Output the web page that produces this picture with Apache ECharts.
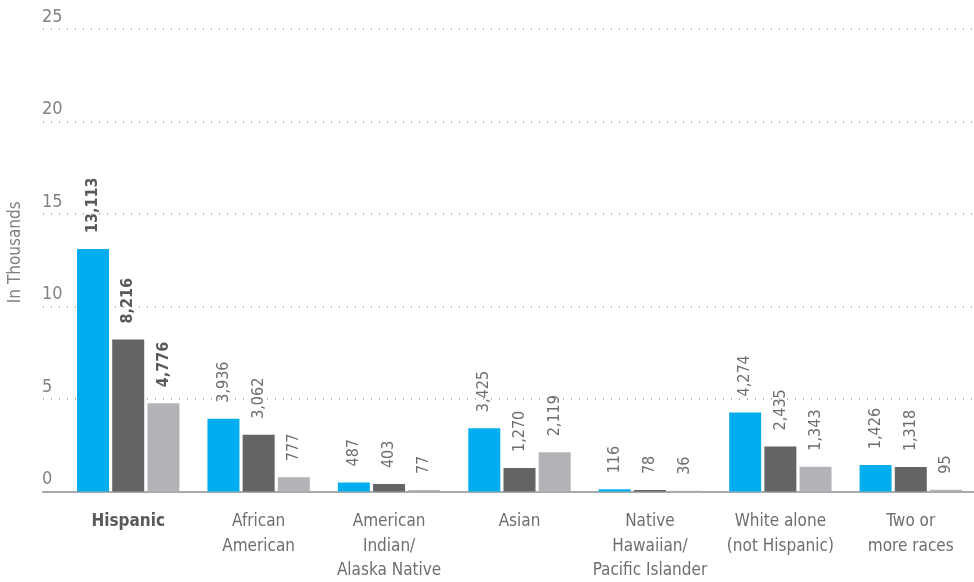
<!DOCTYPE html>
<html><head><meta charset="utf-8">
<script src="https://cdn.jsdelivr.net/npm/echarts@6/dist/echarts.min.js"></script>
<style>html,body{margin:0;padding:0;background:#fff}#c{width:974px;height:582px}</style>
</head><body><div id="c"></div>
<script>
const categories = ['Hispanic','African\nAmerican','American\nIndian/\nAlaska Native','Asian','Native\nHawaiian/\nPacific Islander','White alone\n(not Hispanic)','Two or\nmore races'];
const seriesA = [13113, 3936, 487, 3425, 116, 4274, 1426];
const seriesB = [8216, 3062, 403, 1270, 78, 2435, 1318];
const seriesC = [4776, 777, 77, 2119, 36, 1343, 95];
const yTicks = [0, 5, 10, 15, 20, 25];

const FONT = "'DejaVu Sans Condensed','Liberation Sans Narrow',sans-serif";
const GRAY = '#6d6e71';
const colors = ['#00aeef', '#636466', '#b1b3b6'];

function toK(arr){ return arr.map(v => v / 1000); }
function fmt(v){ return Math.round(v * 1000).toLocaleString('en-US'); }

function mkSeries(name, arr, color){
  return {
    name, type: 'bar', xAxisIndex: 1, yAxisIndex: 1,
    barWidth: 32, barGap: '10%',
    itemStyle: { color },
    data: toK(arr).map((v, i) => ({
      value: v,
      label: i === 0 ? { fontWeight: 'bold', color: '#58595b' } : undefined
    })),
    label: {
      show: true, position: 'top', rotate: 90, align: 'left', verticalAlign: 'middle',
      distance: 16, fontFamily: FONT, fontSize: 16, color: GRAY,
      formatter: p => fmt(p.value)
    }
  };
}

const chart = echarts.init(document.getElementById('c'), null, {renderer: 'canvas'});
chart.setOption({
  animation: false,
  grid: [
    { left: 43, right: 0, top: 29, bottom: 90.5, containLabel: false, outerBoundsMode: 'none' },
    { left: 63, right: -2, top: 29, bottom: 90.5, containLabel: false, outerBoundsMode: 'none' }
  ],
  xAxis: [
    { gridIndex: 0, type: 'value', min: 0, max: 1,
      axisLine: { show: true, lineStyle: { color: '#a7a9ac', width: 2 } },
      axisTick: { show: false }, axisLabel: { show: false }, splitLine: { show: false } },
    { gridIndex: 1, type: 'category', data: categories,
      axisLine: { show: false }, axisTick: { show: false },
      axisLabel: {
        interval: 0, margin: 18, fontFamily: FONT, fontSize: 17, color: GRAY, lineHeight: 24.5,
        formatter: (v, i) => i === 0 ? '{b|' + v + '}' : v,
        rich: { b: { fontWeight: 'bold', fontFamily: FONT, fontSize: 17, color: '#58595b' } }
      } }
  ],
  yAxis: [
    { gridIndex: 0, type: 'value', min: yTicks[0], max: yTicks[yTicks.length - 1], interval: 5,
      name: 'In Thousands', nameLocation: 'middle', nameGap: 19, nameRotate: 90,
      nameTextStyle: { fontFamily: FONT, fontSize: 17, color: '#808285', padding: [0, 0, 0, 16] },
      axisLine: { show: false }, axisTick: { show: false },
      axisLabel: { inside: false, align: 'left', verticalAlign: 'bottom', margin: 1,
        padding: [0, 0, 3, 0], fontFamily: FONT, fontSize: 18, color: '#808285' },
      splitLine: { lineStyle: { type: [1, 7], color: '#9a9a9a', width: 1.5 } } },
    { gridIndex: 1, type: 'value', min: 0, max: 25, show: false }
  ],
  series: [
    mkSeries('A', seriesA, colors[0]),
    mkSeries('B', seriesB, colors[1]),
    mkSeries('C', seriesC, colors[2])
  ]
});
</script></body></html>
